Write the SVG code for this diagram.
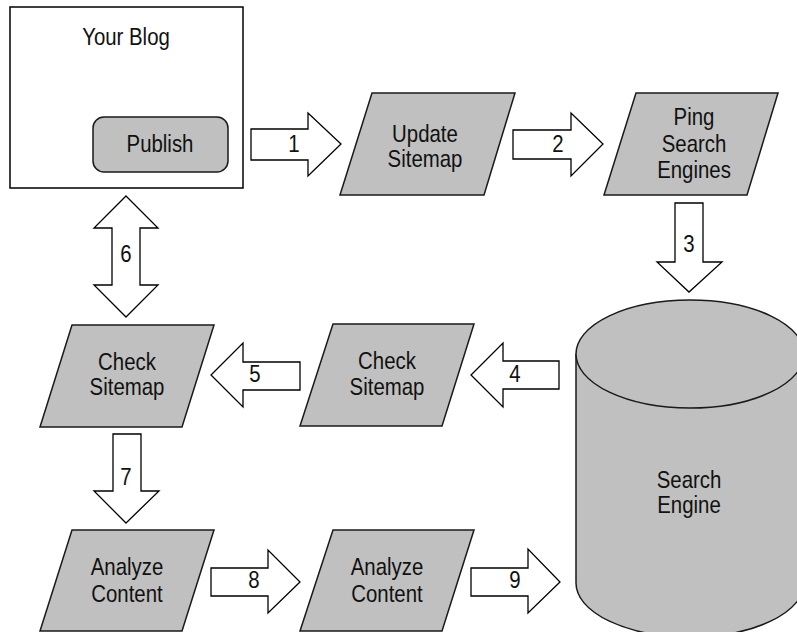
<svg xmlns="http://www.w3.org/2000/svg" width="797" height="632" viewBox="0 0 797 632">
  <style>
    .box { fill: #ffffff; stroke: #000000; stroke-width: 1.5; }
    .shape { fill: #c0c0c0; stroke: #1a1a1a; stroke-width: 1.5; stroke-linejoin: miter; }
    .arrow { fill: #ffffff; stroke: #000000; stroke-width: 1.3; stroke-linejoin: miter; }
    text { font-family: "Liberation Sans", Arial, sans-serif; font-size: 24px; fill: #111111; text-anchor: middle; }
  </style>

  <!-- Blog container with publish button -->
  <g id="your-blog">
    <rect class="box" x="10" y="7" width="233" height="181"/>
    <text transform="translate(126,45) scale(0.85,1)">Your Blog</text>
  </g>
  <g id="publish">
    <rect class="shape" x="93" y="117" width="135" height="55" rx="11" ry="11"/>
    <text transform="translate(160,152) scale(0.85,1)">Publish</text>
  </g>

  <!-- Process steps (parallelograms) -->
  <g id="update-sitemap">
    <polygon class="shape" points="372,93 515,93 484,195 340,195"/>
    <text transform="translate(425,142) scale(0.85,1)">Update</text>
    <text transform="translate(425,167) scale(0.85,1)">Sitemap</text>
  </g>
  <g id="ping-search-engines">
    <polygon class="shape" points="636,93 778,93 747,195 604,195"/>
    <text transform="translate(694,125) scale(0.85,1)">Ping</text>
    <text transform="translate(694,152) scale(0.85,1)">Search</text>
    <text transform="translate(694,178) scale(0.85,1)">Engines</text>
  </g>
  <g id="check-sitemap-engine">
    <polygon class="shape" points="333,324 474,324 442,426 300,426"/>
    <text transform="translate(387,369) scale(0.85,1)">Check</text>
    <text transform="translate(387,395) scale(0.85,1)">Sitemap</text>
  </g>
  <g id="check-sitemap-blog">
    <polygon class="shape" points="72,325 214,325 182,427 40,427"/>
    <text transform="translate(127,370) scale(0.85,1)">Check</text>
    <text transform="translate(127,395) scale(0.85,1)">Sitemap</text>
  </g>
  <g id="analyze-content-1">
    <polygon class="shape" points="72,530 214,530 182,631 40,631"/>
    <text transform="translate(127,575) scale(0.85,1)">Analyze</text>
    <text transform="translate(127,602) scale(0.85,1)">Content</text>
  </g>
  <g id="analyze-content-2">
    <polygon class="shape" points="333,530 474,530 442,631 300,631"/>
    <text transform="translate(387,575) scale(0.85,1)">Analyze</text>
    <text transform="translate(387,602) scale(0.85,1)">Content</text>
  </g>

  <!-- Search engine database -->
  <g id="search-engine">
    <path class="shape" d="M576,354 A114,54 0 0 1 804,354 V583 A114,54 0 0 1 576,583 Z"/>
    <path class="shape" fill="none" d="M576,354 A114,54 0 0 0 804,354"/>
    <text transform="translate(689,488) scale(0.85,1)">Search</text>
    <text transform="translate(689,513) scale(0.85,1)">Engine</text>
  </g>

  <!-- Numbered block arrows -->
  <g id="connectors">
    <path class="arrow" d="M251,129 H308 V113 L341,144 L308,176 V160 H251 Z"/>
    <text transform="translate(294,152) scale(0.85,1)">1</text>
    <path class="arrow" d="M513,130 H571 V113 L603,144 L571,176 V159 H513 Z"/>
    <text transform="translate(558,152) scale(0.85,1)">2</text>
    <path class="arrow" d="M675,203 H703 V262 H722 L689,292 L657,262 H675 Z"/>
    <text transform="translate(689,252) scale(0.85,1)">3</text>
    <path class="arrow" d="M559,361 H503 V343 L471,375 L503,407 V389 H559 Z"/>
    <text transform="translate(515,382) scale(0.85,1)">4</text>
    <path class="arrow" d="M300,362 H243 V343 L211,375 L243,407 V390 H300 Z"/>
    <text transform="translate(255,382) scale(0.85,1)">5</text>
    <path class="arrow" d="M126,196 L158,228 H140 V285 H158 L126,317 L94,285 H112 V228 H94 Z"/>
    <text transform="translate(126,262) scale(0.85,1)">6</text>
    <path class="arrow" d="M113,434 H141 V491 H159 L126,523 L94,491 H113 Z"/>
    <text transform="translate(126,485) scale(0.85,1)">7</text>
    <path class="arrow" d="M211,568 H268 V550 L300,582 L268,613 V596 H211 Z"/>
    <text transform="translate(254,588) scale(0.85,1)">8</text>
    <path class="arrow" d="M471,568 H528 V549 L560,582 L528,613 V596 H471 Z"/>
    <text transform="translate(515,588) scale(0.85,1)">9</text>
  </g>
</svg>
